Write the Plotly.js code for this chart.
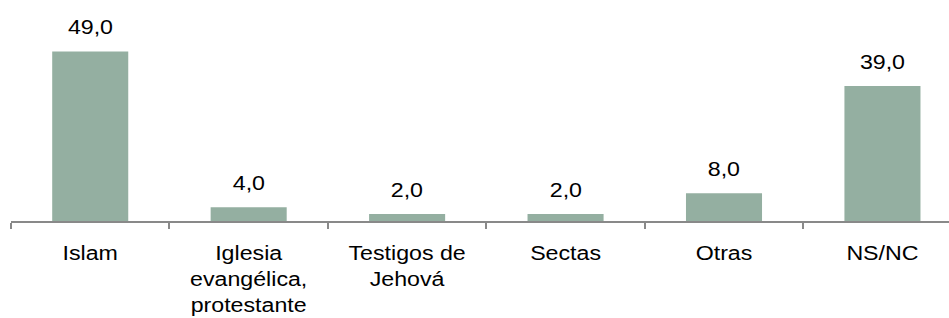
<!DOCTYPE html>
<html>
<head>
<meta charset="utf-8">
<script src="https://cdn.plot.ly/plotly-3.0.1.min.js"></script>
<style>html,body{margin:0;padding:0;background:#fff;}#chart{width:949px;height:318px;}</style>
</head>
<body>
<div id="chart"></div>
<script>
const categories = ["Islam", "Iglesia<br>evangélica,<br>protestante", "Testigos de<br>Jehová", "Sectas", "Otras", "NS/NC"];
const values = [49.0, 4.0, 2.0, 2.0, 8.0, 39.0];

const fmt = v => v.toFixed(1).replace('.', ',');
const FONT = 'Liberation Sans, Arial, sans-serif';
const STRETCH = 1.16;

const trace = {
  type: 'bar',
  x: categories,
  y: values,
  width: 0.48,
  marker: {color: '#94AFA1'},
  hoverinfo: 'none'
};

const annotations = categories.map((c, i) => ({
  x: c, y: values[i], xref: 'x', yref: 'y',
  text: fmt(values[i]), showarrow: false,
  yanchor: 'bottom', yshift: 11,
  font: {family: FONT, size: 20, color: '#000'}
}));

const layout = {
  width: 949, height: 318,
  margin: {l: 11, r: 0, t: 20, b: 96.5},
  paper_bgcolor: '#fff', plot_bgcolor: '#fff',
  showlegend: false,
  font: {family: FONT, size: 20, color: '#000'},
  xaxis: {
    type: 'category',
    range: [-0.5, 5.42],
    showline: true, linecolor: '#898989', linewidth: 2,
    ticks: 'outside', tickson: 'boundaries', ticklen: 6, tickwidth: 2, tickcolor: '#898989',
    showgrid: false, zeroline: false,
    ticklabelstandoff: 13,
    tickfont: {family: FONT, size: 20, color: '#000'}
  },
  yaxis: {visible: false, range: [0, 58.07], showgrid: false, zeroline: false},
  annotations: annotations
};

Plotly.newPlot('chart', [trace], layout, {displayModeBar: false, staticPlot: true}).then(gd => {
  // the reference text is horizontally stretched; widen each label about its own centre
  gd.querySelectorAll('.xtick text, text.annotation-text').forEach(t => {
    const b = t.getBBox();
    const cx = b.x + b.width / 2;
    const prev = t.getAttribute('transform') || '';
    t.setAttribute('transform', prev + ` translate(${cx},0) scale(${STRETCH},1) translate(${-cx},0)`);
  });
});
</script>
</body>
</html>
